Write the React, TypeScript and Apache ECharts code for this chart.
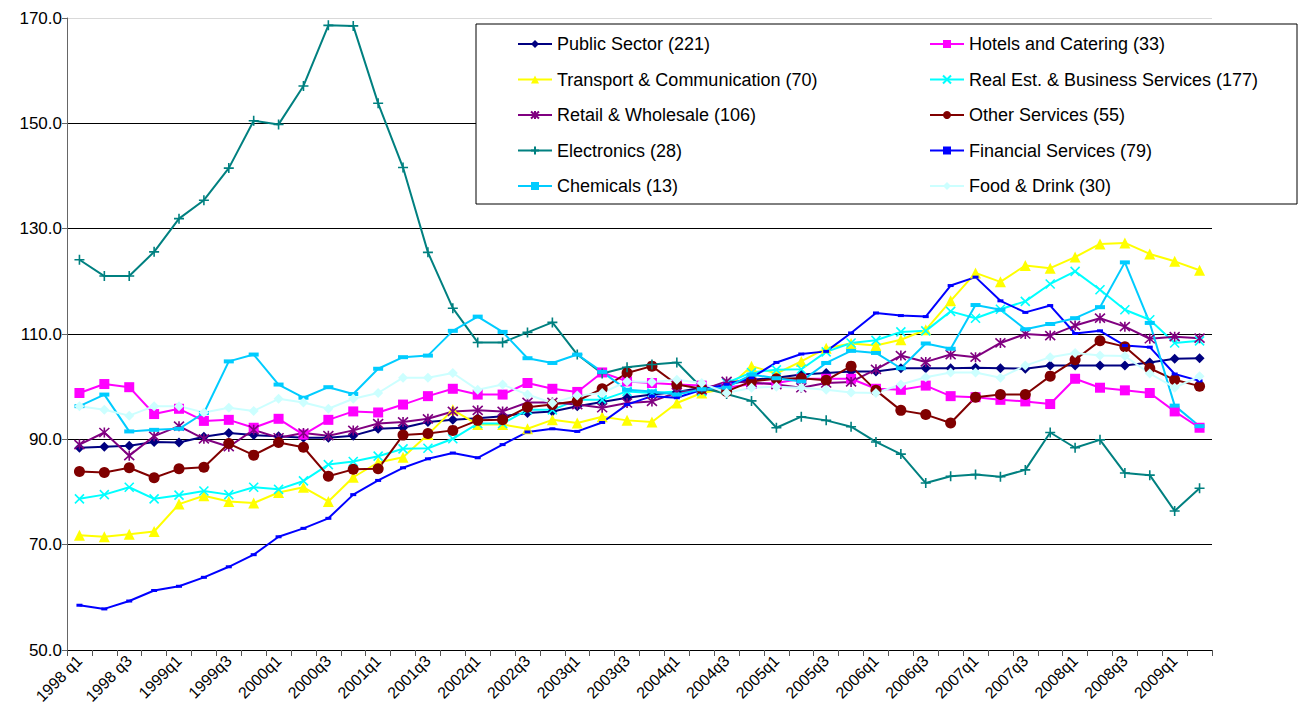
import React, { useEffect, useRef } from "react";
import * as echarts from "echarts";

const categories = [
  "1998 q1", "1998 q2", "1998 q3", "1998 q4",
  "1999q1", "1999q2", "1999q3", "1999q4",
  "2000q1", "2000q2", "2000q3", "2000q4",
  "2001q1", "2001q2", "2001q3", "2001q4",
  "2002q1", "2002q2", "2002q3", "2002q4",
  "2003q1", "2003q2", "2003q3", "2003q4",
  "2004q1", "2004q2", "2004q3", "2004q4",
  "2005q1", "2005q2", "2005q3", "2005q4",
  "2006q1", "2006q2", "2006q3", "2006q4",
  "2007q1", "2007q2", "2007q3", "2007q4",
  "2008q1", "2008q2", "2008q3", "2008q4",
  "2009q1", "2009q2",
];

const yTicks = [50, 70, 90, 110, 130, 150, 170];

const publicSector = [
  88.4, 88.6, 88.8, 89.5, 89.4, 90.5, 91.2, 90.8, 90.6, 90.3, 90.3, 90.7, 92.0, 92.2, 93.3,
  93.7, 94.0, 94.4, 95.0, 95.3, 96.3, 97.1, 97.9, 98.5, 99.0, 99.8, 100.4, 101.3, 101.7, 102.3, 102.6, 102.9,
  102.9, 103.5, 103.5, 103.5, 103.6, 103.5, 103.4, 104.0, 104.0, 104.0, 104.0, 104.6, 105.3, 105.4,
];
const hotels = [
  98.8, 100.5, 99.9, 94.8, 95.8, 93.5, 93.7, 92.2, 93.9, 90.9, 93.7, 95.3, 95.1, 96.6, 98.2,
  99.6, 98.5, 98.5, 100.7, 99.6, 99.0, 102.7, 101.0, 100.7, 100.4, 100.2, 99.8, 100.5, 100.7, 101.5, 101.5, 101.5,
  99.6, 99.4, 100.2, 98.2, 98.0, 97.5, 97.2, 96.7, 101.5, 99.8, 99.3, 98.8, 95.3, 92.2,
];
const transport = [
  71.8, 71.5, 72.0, 72.5, 77.7, 79.3, 78.2, 77.9, 79.9, 80.9, 78.2, 82.8, 85.6, 86.6, 90.9,
  95.6, 92.8, 92.8, 92.0, 93.7, 93.1, 94.3, 93.6, 93.3, 96.9, 98.8, 99.6, 103.9, 102.5, 104.8, 107.3, 108.2,
  107.8, 108.9, 110.8, 116.3, 121.6, 119.9, 123.0, 122.5, 124.6, 127.1, 127.3, 125.2, 123.8, 122.1,
];
const realEstate = [
  78.7, 79.5, 80.9, 78.7, 79.4, 80.2, 79.5, 80.9, 80.5, 82.1, 85.2, 85.8, 86.8, 88.2, 88.3,
  90.1, 93.0, 93.0, 95.6, 95.6, 97.5, 97.5, 99.1, 98.8, 99.1, 99.1, 100.7, 102.7, 103.2, 103.3, 106.6, 108.3,
  108.8, 110.4, 110.6, 114.3, 113.0, 114.7, 116.2, 119.5, 121.9, 118.4, 114.6, 112.7, 108.3, 108.7,
];
const retail = [
  89.0, 91.3, 86.9, 90.6, 92.5, 90.1, 88.6, 91.8, 90.3, 91.2, 90.7, 91.7, 93.0, 93.3, 93.9,
  95.3, 95.5, 95.3, 97.0, 97.0, 96.6, 96.0, 96.9, 97.2, 98.9, 99.4, 101.0, 100.8, 100.4, 99.8, 100.7, 100.9,
  103.3, 105.9, 104.7, 106.1, 105.6, 108.3, 110.0, 109.7, 111.6, 113.0, 111.4, 109.1, 109.5, 109.2,
];
const otherServices = [
  83.9, 83.7, 84.6, 82.7, 84.4, 84.7, 89.2, 87.0, 89.4, 88.5, 83.0, 84.3, 84.4, 90.8, 91.1,
  91.7, 93.6, 93.7, 96.1, 96.6, 97.3, 99.6, 102.6, 103.9, 100.4, 99.6, 99.1, 101.0, 101.5, 101.6, 101.2, 103.9,
  99.3, 95.5, 94.7, 93.1, 98.0, 98.5, 98.5, 102.0, 105.1, 108.7, 107.6, 103.5, 101.3, 100.1,
];
const electronics = [
  124.1, 121.0, 121.0, 125.6, 131.9, 135.4, 141.5, 150.5, 149.8, 157.1, 168.6, 168.5, 153.8, 141.6, 125.5,
  114.9, 108.4, 108.4, 110.3, 112.2, 106.1, 102.5, 103.7, 104.2, 104.6, 99.8, 98.6, 97.3, 92.2, 94.3, 93.6, 92.4,
  89.5, 87.2, 81.7, 83.0, 83.3, 82.9, 84.2, 91.3, 88.4, 89.9, 83.6, 83.2, 76.4, 80.7,
];
const financial = [
  58.5, 57.8, 59.3, 61.3, 62.1, 63.8, 65.8, 68.1, 71.5, 73.1, 75.0, 79.5, 82.2, 84.6, 86.3,
  87.4, 86.5, 89.0, 91.4, 92.0, 91.5, 93.2, 96.6, 98.2, 97.9, 99.4, 100.4, 101.7, 104.6, 106.2, 106.7, 110.2,
  114.0, 113.5, 113.3, 119.2, 120.8, 116.3, 114.1, 115.4, 110.1, 110.6, 107.8, 107.5, 102.4, 101.1,
];
const chemicals = [
  96.3, 98.5, 91.5, 91.8, 92.0, 95.0, 104.8, 106.1, 100.4, 97.9, 99.9, 98.6, 103.4, 105.6, 105.9,
  110.6, 113.3, 110.4, 105.4, 104.5, 106.1, 102.8, 99.4, 99.1, 98.5, 99.5, 99.8, 102.3, 101.6, 101.0, 104.5, 106.8,
  106.4, 103.5, 108.2, 107.2, 115.5, 114.6, 110.9, 111.9, 113.0, 115.1, 123.6, 112.1, 96.4, 92.5,
];
const foodDrink = [
  96.3, 95.6, 94.5, 96.3, 96.3, 95.1, 96.0, 95.4, 97.7, 97.0, 95.8, 97.7, 98.8, 101.7, 101.7,
  102.6, 99.4, 100.4, 98.5, 96.9, 98.3, 98.8, 101.0, 100.9, 101.3, 100.7, 98.8, 99.8, 100.0, 99.8, 99.4, 98.9,
  98.8, 100.4, 101.8, 102.7, 102.7, 101.7, 104.0, 105.6, 106.4, 105.9, 105.8, 102.5, 99.8, 102.0,
];

const seriesNames = [
  "Public Sector (221)",
  "Hotels and Catering (33)",
  "Transport & Communication (70)",
  "Real Est. & Business Services (177)",
  "Retail & Wholesale (106)",
  "Other Services (55)",
  "Electronics (28)",
  "Financial Services (79)",
  "Chemicals (13)",
  "Food & Drink (30)",
];

const X_PATH = "path://M0,0L10,10M10,0L0,10";
const ASTERISK_PATH = "path://M5,0L5,10M0.5,0.5L9.5,9.5M9.5,0.5L0.5,9.5";
const PLUS_PATH = "path://M5,0L5,10M0,5L10,5";

const FONT = "'Liberation Sans', Arial, sans-serif";

function mk(name: string, data: number[], color: string, symbol: string, size: any, stroke = 0) {
  return {
    type: "line",
    name,
    data,
    symbol,
    symbolSize: size,
    showAllSymbol: true,
    lineStyle: { color, width: 2 },
    itemStyle: { color, borderColor: color, borderWidth: stroke },
    emphasis: { disabled: true },
  };
}

const legendCommon = {
  orient: "vertical",
  top: 35,
  padding: 0,
  itemWidth: 34,
  itemHeight: 10,
  itemGap: 17.5,
  textStyle: { fontSize: 18, color: "#000", fontFamily: FONT, lineHeight: 18 },
};

export default function App() {
  const ref = useRef<HTMLDivElement>(null);
  useEffect(() => {
    if (!ref.current) return;
    const chart = echarts.init(ref.current, null, { renderer: "svg" });
    const option = {
      animation: false,
      backgroundColor: "#ffffff",
      textStyle: { fontFamily: FONT },
      grid: { left: 67, top: 18, width: 1145, height: 632, containLabel: false },
      xAxis: {
        type: "category",
        data: categories,
        boundaryGap: true,
        axisLine: { show: true, lineStyle: { color: "#000", width: 1 } },
        axisTick: { show: true, interval: 0, length: 6, lineStyle: { color: "#555" } },
        axisLabel: {
          interval: 1,
          rotate: 45,
          fontSize: 16,
          color: "#000",
          fontFamily: FONT,
          margin: 8,
        },
        splitLine: { show: false },
      },
      yAxis: {
        type: "value",
        min: yTicks[0],
        max: yTicks[yTicks.length - 1],
        interval: 20,
        axisLine: { show: true, lineStyle: { color: "#666", width: 1 } },
        axisTick: { show: true, length: 5, lineStyle: { color: "#666" } },
        axisLabel: {
          fontSize: 17,
          color: "#000",
          fontFamily: FONT,
          margin: 5,
          formatter: (v: number) => v.toFixed(1),
        },
        splitLine: {
          show: true,
          lineStyle: {
            color: ["#000", "#000", "#000", "#000", "#000", "#000", "#d9d9d9"],
            width: 1,
          },
        },
      },
      legend: [
        {
          ...legendCommon,
          left: 517,
          data: [seriesNames[0], seriesNames[2], seriesNames[4], seriesNames[6], seriesNames[8]],
        },
        {
          ...legendCommon,
          left: 929,
          data: [seriesNames[1], seriesNames[3], seriesNames[5], seriesNames[7], seriesNames[9]],
        },
      ],
      graphic: [
        {
          type: "rect",
          z: 3,
          shape: { x: 476, y: 24, width: 821, height: 180 },
          style: { fill: "#ffffff", stroke: "#000", lineWidth: 1 },
        },
      ],
      series: [
        mk(seriesNames[0], publicSector, "#000080", "diamond", 10),
        mk(seriesNames[1], hotels, "#FF00FF", "rect", 10),
        mk(seriesNames[2], transport, "#FFFF00", "triangle", 11),
        mk(seriesNames[3], realEstate, "#00FFFF", X_PATH, 9, 1.6),
        mk(seriesNames[4], retail, "#800080", ASTERISK_PATH, 10, 1.6),
        mk(seriesNames[5], otherServices, "#800000", "circle", 11),
        mk(seriesNames[6], electronics, "#008080", PLUS_PATH, 10, 1.6),
        mk(seriesNames[7], financial, "#0000FF", "rect", [6, 3]),
        mk(seriesNames[8], chemicals, "#00CCFF", "rect", [10, 4]),
        mk(seriesNames[9], foodDrink, "#CCFFFF", "diamond", 10),
      ],
    };
    chart.setOption(option as any);
    return () => chart.dispose();
  }, []);
  return (
    <div
      ref={ref}
      style={{ position: "fixed", left: 0, top: 0, width: 1304, height: 719, background: "#fff" }}
    />
  );
}
